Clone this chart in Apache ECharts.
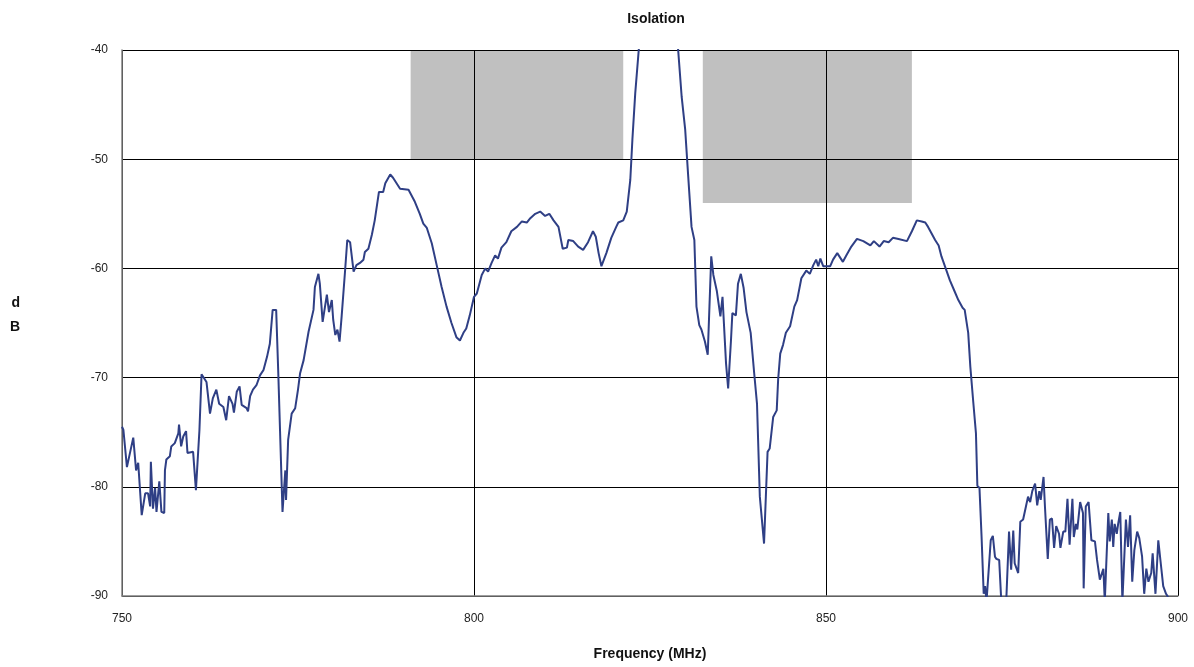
<!DOCTYPE html>
<html>
<head>
<meta charset="utf-8">
<script src="https://cdn.jsdelivr.net/npm/echarts@6/dist/echarts.min.js"></script>
<style>
html,body{margin:0;padding:0;background:#fff;}
#chart{width:1194px;height:667px;}
</style>
</head>
<body>
<div id="chart"></div>
<script>
const chartTitle = "Isolation";
const xAxisName = "Frequency (MHz)";
const yAxisNameLines = ["d", "B"];
const xTicks = [750, 800, 850, 900];
const yTicks = [-90, -80, -70, -60, -50, -40];

const freqMHz = [750.0,750.2,750.7,751.6,752.0,752.3,752.8,753.3,753.7,754.0,754.1,754.4,754.7,754.9,755.3,755.6,756.0,756.1,756.3,756.8,757.0,757.5,758.0,758.1,758.4,758.7,759.1,759.3,760.1,760.5,761.0,761.3,762.0,762.5,762.9,763.4,763.8,764.4,764.8,765.2,765.7,765.9,766.3,766.7,767.0,767.7,767.9,768.2,768.6,769.1,769.6,770.1,770.6,771.0,771.4,771.9,772.2,772.8,773.2,773.3,773.6,774.1,774.6,775.0,775.3,775.8,776.5,777.2,777.4,777.9,778.1,778.5,779.1,779.4,779.8,780.0,780.3,780.6,780.9,781.2,781.7,782.0,782.4,782.9,783.3,783.8,784.3,784.5,785.0,785.5,785.9,786.5,787.1,787.4,788.1,788.5,789.5,790.7,791.6,792.3,792.8,793.3,794.0,794.7,795.4,796.1,796.8,797.5,798.0,798.5,798.9,799.4,800.0,800.4,801.1,801.6,802.0,802.5,803.0,803.4,803.9,804.6,805.3,806.1,806.8,807.5,808.0,808.7,809.4,810.1,810.7,811.3,812.0,812.6,813.2,813.4,814.1,814.8,815.5,816.2,816.9,817.3,817.7,818.1,818.8,819.5,820.2,820.5,821.2,821.7,822.2,822.5,822.9,823.4,824.0,824.5,826.0,827.5,828.5,829.0,829.5,830.0,830.4,830.9,831.3,831.6,832.0,832.3,832.8,833.2,833.7,834.0,834.5,835.0,835.3,835.8,836.1,836.5,836.7,837.2,837.5,837.9,838.3,838.7,839.3,839.8,840.2,840.6,841.2,841.7,842.0,842.5,843.0,843.2,843.5,843.9,844.3,844.9,845.5,845.9,846.5,847.2,847.7,848.2,848.6,848.9,849.2,849.6,850.6,851.0,851.6,852.4,852.9,853.6,854.4,855.3,856.3,856.8,857.6,858.2,858.9,859.5,860.3,861.5,862.2,862.9,863.6,864.1,864.5,865.0,865.5,866.0,866.4,867.0,867.6,868.2,868.8,869.4,869.7,870.2,870.5,870.9,871.3,871.5,871.8,872.1,872.4,872.6,872.8,873.4,873.7,874.0,874.2,874.6,874.9,875.6,876.0,876.3,876.6,876.8,877.3,877.6,878.0,878.4,878.7,879.0,879.3,879.7,880.0,880.3,880.5,880.9,881.1,881.5,881.8,882.1,882.4,882.7,883.1,883.3,883.7,884.0,884.3,884.6,885.0,885.2,885.5,885.7,886.1,886.5,886.6,886.9,887.3,887.7,888.2,888.5,888.9,889.4,889.6,890.1,890.3,890.6,890.8,891.0,891.3,891.5,891.8,892.1,892.6,892.9,893.2,893.5,893.8,894.2,894.5,894.9,895.2,895.5,895.8,896.2,896.4,896.8,897.2,897.6,897.9,898.3,898.6];

const isolationDb = [-74.5,-74.8,-78.2,-75.5,-78.5,-77.8,-82.6,-80.6,-80.6,-81.8,-77.7,-82.0,-80.1,-82.3,-79.5,-82.3,-82.4,-78.5,-77.5,-77.2,-76.3,-76.0,-75.1,-74.3,-76.3,-75.4,-74.9,-76.9,-76.8,-80.3,-74.8,-69.7,-70.4,-73.3,-71.9,-71.1,-72.4,-72.7,-73.9,-71.7,-72.4,-73.2,-71.3,-70.8,-72.5,-72.8,-73.1,-71.7,-71.1,-70.7,-69.8,-69.3,-68.1,-66.9,-63.8,-63.8,-69.6,-82.3,-78.5,-81.2,-75.7,-73.3,-72.8,-71.1,-69.6,-68.4,-65.8,-63.8,-61.7,-60.5,-61.4,-64.9,-62.4,-64.0,-62.9,-64.7,-66.1,-65.6,-66.7,-64.4,-60.1,-57.4,-57.6,-60.3,-59.7,-59.5,-59.2,-58.5,-58.2,-56.9,-55.6,-53.0,-53.0,-52.2,-51.4,-51.7,-52.7,-52.8,-53.9,-55.0,-55.9,-56.3,-57.7,-59.7,-61.7,-63.5,-65.0,-66.3,-66.6,-65.9,-65.5,-64.3,-62.6,-62.3,-60.6,-60.0,-60.3,-59.5,-58.8,-59.1,-58.1,-57.6,-56.6,-56.2,-55.7,-55.8,-55.4,-55.0,-54.8,-55.2,-55.0,-55.6,-56.2,-58.2,-58.1,-57.4,-57.5,-58.0,-58.3,-57.6,-56.6,-57.1,-58.6,-59.8,-58.6,-57.2,-56.2,-55.8,-55.6,-54.8,-51.9,-48.2,-44.0,-40.0,-36.0,-34.0,-32.0,-33.0,-36.0,-40.0,-44.3,-47.3,-51.3,-56.2,-57.4,-63.5,-65.2,-65.6,-66.7,-67.9,-58.9,-60.6,-62.1,-64.4,-62.6,-68.7,-71.0,-66.6,-64.1,-64.3,-61.4,-60.5,-61.8,-64.0,-65.9,-69.6,-72.4,-80.9,-85.2,-76.8,-76.5,-73.6,-73.0,-70.2,-67.8,-67.0,-65.9,-65.3,-63.5,-62.9,-60.9,-60.2,-60.5,-59.7,-59.2,-59.8,-59.1,-59.8,-59.8,-59.2,-58.6,-59.4,-58.8,-58.0,-57.3,-57.5,-57.9,-57.5,-58.0,-57.5,-57.6,-57.2,-57.3,-57.5,-56.6,-55.6,-55.7,-55.8,-56.2,-56.8,-57.4,-57.9,-58.9,-60.0,-61.1,-62.0,-62.9,-63.6,-63.8,-65.9,-69.0,-72.1,-75.1,-79.9,-80.1,-84.6,-89.8,-89.1,-90.5,-84.9,-84.5,-86.4,-86.6,-86.7,-90.5,-90.5,-84.1,-87.6,-84.0,-87.0,-87.9,-83.2,-83.0,-81.8,-80.9,-81.4,-80.4,-79.7,-81.7,-80.4,-81.2,-79.1,-81.8,-86.6,-83.0,-82.9,-85.6,-83.6,-84.3,-85.6,-84.1,-84.1,-81.1,-85.3,-81.1,-84.6,-83.4,-83.9,-81.4,-82.4,-89.3,-81.8,-81.4,-84.9,-85.0,-86.7,-88.5,-87.5,-90.5,-82.4,-85.0,-83.0,-85.5,-83.4,-84.3,-83.4,-82.3,-90.5,-83.0,-85.5,-82.6,-88.7,-85.8,-84.1,-84.7,-86.4,-89.8,-87.5,-88.7,-87.9,-86.1,-89.8,-84.9,-87.3,-89.1,-89.8,-90.1];

// Shaded limit masks: [fromMHz, toMHz, topDb, bottomDb]
const maskBand1 = [791.0, 821.2, -40, -50];
const maskBand2 = [832.5, 862.2, -40, -54];

const lineData = freqMHz.map((f, i) => [f, isolationDb[i]]);
const masks = [maskBand1, maskBand2].map(m => [
  { coord: [m[0], m[2]] },
  { coord: [m[1], m[3]] }
]);
const yNameRich = yAxisNameLines.map(s => '{n|' + s + '}').join('\n') + '\n{s| }';

const chart = echarts.init(document.getElementById('chart'), null, { renderer: 'canvas' });
const fontFam = 'Arial, "Liberation Sans", sans-serif';
chart.setOption({
  animation: false,
  backgroundColor: '#ffffff',
  title: {
    text: chartTitle,
    left: 651, top: 7, textAlign: 'center',
    textStyle: { fontFamily: fontFam, fontSize: 14, fontWeight: 'bold', color: '#111' }
  },
  grid: { left: 122, right: 16, top: 50, bottom: 71, containLabel: false },
  xAxis: {
    type: 'value', min: xTicks[0], max: xTicks[xTicks.length - 1], interval: 50,
    z: 5,
    name: xAxisName, nameLocation: 'middle', nameGap: 51,
    nameTextStyle: { fontFamily: fontFam, fontSize: 14, fontWeight: 'bold', color: '#111' },
    axisLine: { show: true, onZero: false, lineStyle: { color: '#808080', width: 1.5 } },
    axisTick: { show: false },
    axisLabel: { fontFamily: fontFam, fontSize: 12, color: '#222', margin: 17 },
    splitLine: { show: true, lineStyle: { color: '#000', width: 1 } }
  },
  yAxis: {
    type: 'value', min: yTicks[0], max: yTicks[yTicks.length - 1], interval: 10,
    z: 5,
    name: yNameRich, nameLocation: 'middle', nameRotate: 0, nameGap: 102,
    nameTextStyle: {
      fontFamily: fontFam, fontSize: 14, fontWeight: 'bold', color: '#111',
      rich: {
        n: { fontFamily: fontFam, fontSize: 14, fontWeight: 'bold', color: '#111', lineHeight: 24 },
        s: { fontSize: 2, lineHeight: 16 }
      }
    },
    axisLine: { show: true, lineStyle: { color: '#808080', width: 1.5 } },
    axisTick: { show: false },
    axisLabel: { fontFamily: fontFam, fontSize: 12, color: '#222', margin: 14 },
    splitLine: { show: true, lineStyle: { color: '#000', width: 1 } }
  },
  series: [
    {
      type: 'line', data: [], z: 1, silent: true,
      markArea: {
        silent: true,
        itemStyle: { color: '#c0c0c0', opacity: 1 },
        data: masks
      }
    },
    {
      type: 'line', data: lineData, showSymbol: false, symbol: 'none', clip: true,
      lineStyle: { color: '#2f3f85', width: 2 },
      z: 10
    }
  ]
});
</script>
</body>
</html>
